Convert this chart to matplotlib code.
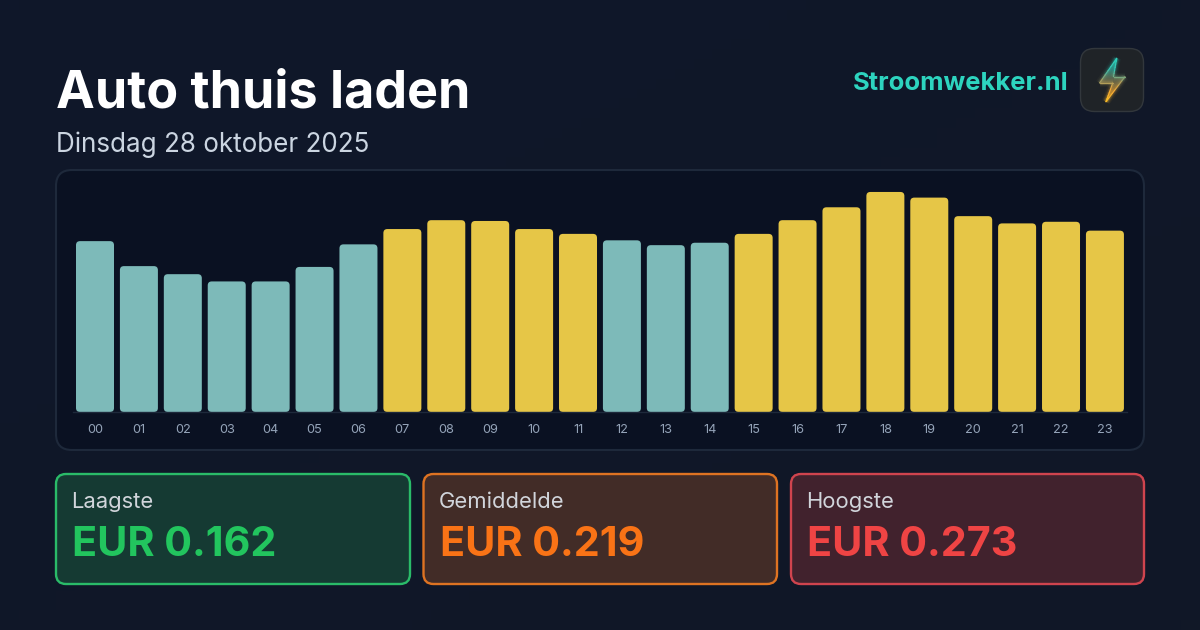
import numpy as np
import matplotlib
matplotlib.use("Agg")
import matplotlib.pyplot as plt
from matplotlib.patches import FancyBboxPatch, Polygon
from matplotlib.colors import LinearSegmentedColormap
from matplotlib.collections import LineCollection

plt.rcParams['font.family'] = ['Inter', 'DejaVu Sans']

# hourly prices in EUR/kWh
hours = ['%02d' % h for h in range(24)]
prices = [0.212, 0.181, 0.171, 0.162, 0.162, 0.180, 0.208, 0.227,
          0.238, 0.237, 0.227, 0.221, 0.213, 0.207, 0.210, 0.221,
          0.238, 0.254, 0.273, 0.266, 0.243, 0.234, 0.236, 0.225]
cheap_hours = [0, 1, 2, 3, 4, 5, 6, 12, 13, 14]

title = 'Auto thuis laden'
subtitle = 'Dinsdag 28 oktober 2025'
brand = 'Stroomwekker.nl'
card_labels = ['Laagste', 'Gemiddelde', 'Hoogste']
card_colors = ['#22c55e', '#f97316', '#ef4444']
card_edges = ['#2abb69', '#de7322', '#cf444e']
card_fills = ['#153a33', '#422c27', '#41222d']
card_values = [min(prices), sum(prices) / len(prices), max(prices)]

PX = 1 / 100


def rounded(ax, x0, y0, x1, y1, r, **kw):
    box = FancyBboxPatch((x0 + r, y0 + r), x1 - x0 - 2 * r, y1 - y0 - 2 * r,
                         boxstyle='round,pad=%f,rounding_size=%f' % (r, r), **kw)
    ax.add_patch(box)
    return box


fig = plt.figure(figsize=(12, 6.3), dpi=100, facecolor='#0f172a')

# page layer in pixel coordinates
page = fig.add_axes([0, 0, 1, 1])

# diagonal page background
bg_cmap = LinearSegmentedColormap.from_list('page', ['#0f172a', '#111827'])
yy, xx = np.mgrid[0:1:64j, 0:1:64j]
page.imshow((xx + yy) / 2, extent=(0, 1200, 630, 0), cmap=bg_cmap, aspect='auto', zorder=0)
page.set_xlim(0, 1200)
page.set_ylim(630, 0)
page.axis('off')

page.text(56, 108, title, fontsize=52 * 0.72, fontweight='bold', color='white', va='baseline')
page.text(56.5, 152, subtitle, fontsize=26 * 0.72, color='#cbd5e1', va='baseline')
page.text(1068, 90, brand, fontsize=25.6 * 0.72, fontweight='bold', color='#2dd4bf',
          va='baseline', ha='right')

# chart panel
rounded(page, 56, 170, 1144, 450, 16, facecolor='#0a1122', edgecolor='#1e293b', linewidth=1.5)

# logo tile
rounded(page, 1080.5, 48.5, 1143.5, 111.5, 14, facecolor='#1f2327', edgecolor='#32373c', linewidth=1)
bolt = [(1116.7, 58.3), (1099.5, 83), (1112.7, 83), (1106, 101.7), (1125, 76.7), (1113.5, 76.7)]
bolt_cmap = LinearSegmentedColormap.from_list('bolt', ['#2dd4bf', '#35c4b4', '#9a9a66', '#f5a935', '#fbbf24'])

# outline cut in short pieces so the stroke can follow the colour ramp
pts = np.array(bolt + bolt[:1])
segs = []
seg_t = []
for a, b in zip(pts[:-1], pts[1:]):
    ts = np.linspace(0, 1, 7)
    line = a + (b - a) * ts[:, None]
    for p, q in zip(line[:-1], line[1:]):
        segs.append([p, q])
        seg_t.append((((p + q) / 2)[1] - 58) / 44)
seg_colors = bolt_cmap(np.array(seg_t))
for lw, a in [(6, 0.05), (4, 0.09), (2.6, 0.16)]:
    glow = seg_colors.copy()
    glow[:, 3] = a
    page.add_collection(LineCollection(segs, colors=glow, linewidths=lw, capstyle='butt', zorder=2))
grad = np.linspace(0, 1, 64).reshape(-1, 1)
im = page.imshow(grad, extent=(1099, 1125.5, 102, 58), cmap=bolt_cmap, aspect='auto', zorder=3, alpha=0.55)
clip = Polygon(bolt, closed=True, transform=page.transData, facecolor='none', edgecolor='none')
page.add_patch(clip)
im.set_clip_path(clip)
page.add_collection(LineCollection(segs, colors=seg_colors, linewidths=0.9, capstyle='round', zorder=4))
page.set_xlim(0, 1200)
page.set_ylim(630, 0)

# stat cards
card_x = [(56, 410), (423.5, 777), (791, 1144)]
for (x0, x1), name, col, edge, fill, val in zip(card_x, card_labels, card_colors, card_edges, card_fills, card_values):
    rounded(page, x0, 474, x1, 584, 10, facecolor=fill, edgecolor=edge, linewidth=1.7)
    page.text(x0 + 15.5, 508, name, fontsize=22 * 0.72, color='#d1d5db', va='baseline')
    page.text(x0 + 16, 556, 'EUR %.3f' % val, fontsize=41.3 * 0.72, fontweight='bold', color=col, va='baseline')

# bars, one hour = 43.91 px, 806 px per EUR
step = 43.91
scale = 806.0
bottom_px = 412
top_px = 172
left_px = 95 - step / 2
ax = fig.add_axes([left_px * PX / 12, (630 - bottom_px) * PX / 6.3,
                   24 * step * PX / 12, (bottom_px - top_px) * PX / 6.3])
ax.patch.set_alpha(0)
ax.set_xlim(-0.5, 23.5)
ax.set_ylim(0, (bottom_px - top_px) / scale)
for s in ax.spines.values():
    s.set_visible(False)
ax.spines['bottom'].set_visible(True)
ax.spines['bottom'].set_color('#1e293b')
ax.spines['bottom'].set_linewidth(1)
ax.set_yticks([])
ax.set_xticks(range(24))
ax.set_xticklabels(hours, fontsize=12.8 * 0.72, color='#94a3b8')
ax.tick_params(axis='x', length=0, pad=8.5)

bar_w = 38 / step
r = 4 / step
for i, p in enumerate(prices):
    col = '#7dbab9' if i in cheap_hours else '#e6c647'
    ax.add_patch(FancyBboxPatch((i - bar_w / 2 + r, 0.0 + r * step / scale), bar_w - 2 * r,
                                p - 2 * r * step / scale,
                                boxstyle='round,pad=%f,rounding_size=%f' % (r, r),
                                mutation_aspect=step / scale,
                                facecolor=col, edgecolor='none'))

fig.savefig('out.png', dpi=100)
